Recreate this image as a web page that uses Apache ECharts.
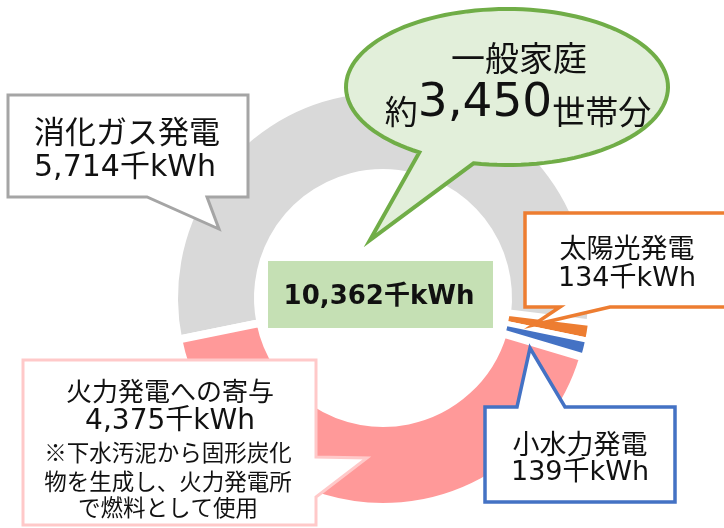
<!DOCTYPE html>
<html>
<head>
<meta charset="utf-8">
<script src="https://cdn.jsdelivr.net/npm/echarts@6/dist/echarts.min.js"></script>
<style>
  html, body { margin: 0; padding: 0; background: #fff; }
  #chart { width: 724px; height: 528px; }
</style>
</head>
<body>
<div id="chart"></div>
<script>
// ---- data ----
const categories = ['消化ガス発電', '太陽光発電', '小水力発電', '火力発電への寄与'];
const values = [5714, 134, 139, 4375];
const households = 3450;
const unit = '千kWh';
const householdLabel = '一般家庭';
const noteLines = ['※下水汚泥から固形炭化', '物を生成し、火力発電所', 'で燃料として使用'];

// ---- styles ----
const colors = ['#D9D9D9', '#ED7D31', '#4472C4', '#FF9999'];
const gapWidths = [8, 5, 5, 8];
const FONT = '"DejaVu Sans", "Noto Sans CJK JP", sans-serif';
const CJK = '"Noto Sans CJK JP", sans-serif';
const fmt = v => v.toLocaleString('en-US');
const total = values.reduce((a, b) => a + b, 0);

const chart = echarts.init(document.getElementById('chart'), null, { renderer: 'canvas' });

function txt(text, x, y, size, extra) {
  return {
    type: 'text', z: 120,
    style: Object.assign({
      text: text, x: x, y: y, fontSize: size, fontFamily: FONT,
      fill: '#111', align: 'center', verticalAlign: 'middle'
    }, extra || {})
  };
}
function poly(points, stroke, lw, fill) {
  return {
    type: 'polygon', z: 110,
    shape: { points: points },
    style: { fill: fill || '#fff', stroke: stroke, lineWidth: lw, lineJoin: 'miter' }
  };
}

// speech-bubble outline: ellipse with a tail
function bubblePoints(cx, cy, rx, ry, t0, t1, tip) {
  const pts = [];
  const n = 120;
  for (let i = 0; i <= n; i++) {
    const t = (t0 + (t1 - t0) * i / n) * Math.PI / 180;
    pts.push([cx + rx * Math.cos(t), cy + ry * Math.sin(t)]);
  }
  pts.push(tip);
  return pts;
}

const graphics = [
  // center total box
  { type: 'rect', z: 105, shape: { x: 268, y: 261, width: 225, height: 67 }, style: { fill: '#C5E0B4' } },
  txt(fmt(total) + unit, 379, 297, 26, { fontWeight: 'bold' }),

  // gray callout (消化ガス発電)
  poly([[8, 95], [248, 95], [248, 197], [207, 197], [219, 229], [147, 197], [8, 197]], '#A5A5A5', 3),
  txt(categories[0], 127, 131, 31, { fontFamily: CJK }),
  txt(fmt(values[0]) + unit, 125, 168, 30),

  // green speech bubble
  poly(bubblePoints(507, 87, 161, 78, 102, -237, [370, 240]), '#70AD47', 4, '#E2EFDA'),
  txt(householdLabel, 519, 58, 34, { fontFamily: CJK }),
  {
    type: 'text', z: 120,
    style: {
      text: '{a|約}{b|' + fmt(households) + '}{a|世帯分}',
      x: 518, y: 104, align: 'center', verticalAlign: 'middle',
      rich: {
        a: { fontSize: 33, fontFamily: CJK, fill: '#111', verticalAlign: 'bottom' },
        b: { fontSize: 47, fontFamily: FONT, fill: '#111', verticalAlign: 'bottom' }
      }
    }
  },

  // orange callout (太陽光発電)
  poly([[525, 213], [734, 213], [734, 307], [610, 307], [533, 325], [560, 307], [525, 307]], '#ED7D31', 3.5),
  txt(categories[1], 627, 248, 27, { fontFamily: CJK }),
  txt(fmt(values[1]) + unit, 627, 279, 27),

  // blue callout (小水力発電)
  poly([[485, 407], [517, 407], [530, 348], [565, 407], [675, 407], [675, 502], [485, 502]], '#4472C4', 3.5),
  txt(categories[2], 580, 444, 27, { fontFamily: CJK }),
  txt(fmt(values[2]) + unit, 580, 473, 27),

  // pink callout (火力発電への寄与)
  poly([[23, 360], [316, 360], [316, 457], [367, 458], [316, 497], [316, 525], [23, 525]], '#FFC9C9', 3),
  txt(categories[3], 170, 391, 26, { fontFamily: CJK }),
  txt(fmt(values[3]) + unit, 170, 422, 28),
  txt(noteLines[0], 168, 452, 22.5, { fontFamily: CJK }),
  txt(noteLines[1], 168, 481, 22.5, { fontFamily: CJK }),
  txt(noteLines[2], 168, 507, 22.5, { fontFamily: CJK })
];

chart.setOption({
  animation: false,
  backgroundColor: '#fff',
  color: colors,
  series: [{
    type: 'pie',
    center: [383, 298],
    radius: [125, 209],
    startAngle: 191.5,
    clockwise: true,
    avoidLabelOverlap: false,
    label: { show: false },
    labelLine: { show: false },
    emphasis: { disabled: true },
    silent: true,
    itemStyle: { borderColor: '#fff', borderWidth: 6, borderJoin: 'miter' },
    data: categories.map((c, i) => ({
      name: c, value: values[i],
      itemStyle: { borderWidth: gapWidths[i] }
    }))
  }],
  graphic: { elements: graphics }
});
</script>
</body>
</html>
